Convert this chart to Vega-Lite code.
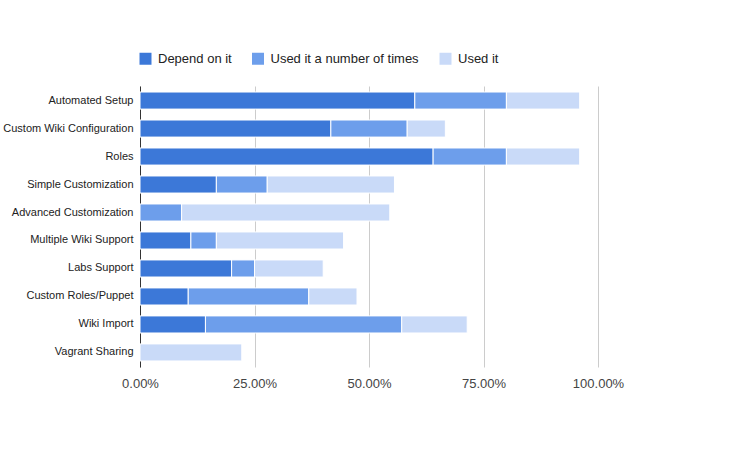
{
  "$schema": "https://vega.github.io/schema/vega-lite/v6.json",
  "width": 458,
  "height": 281,
  "autosize": {"type": "none"},
  "padding": {"left": 140, "top": 86, "right": 139, "bottom": 87},
  "background": "white",
  "config": {"font": "Liberation Sans", "view": {"stroke": null}},
  "data": {"values": [
    {"feature": "Automated Setup", "series": "Depend on it", "share": 0.60},
    {"feature": "Automated Setup", "series": "Used it a number of times", "share": 0.20},
    {"feature": "Automated Setup", "series": "Used it", "share": 0.16},
    {"feature": "Custom Wiki Configuration", "series": "Depend on it", "share": 0.4167},
    {"feature": "Custom Wiki Configuration", "series": "Used it a number of times", "share": 0.1667},
    {"feature": "Custom Wiki Configuration", "series": "Used it", "share": 0.0833},
    {"feature": "Roles", "series": "Depend on it", "share": 0.64},
    {"feature": "Roles", "series": "Used it a number of times", "share": 0.16},
    {"feature": "Roles", "series": "Used it", "share": 0.16},
    {"feature": "Simple Customization", "series": "Depend on it", "share": 0.1667},
    {"feature": "Simple Customization", "series": "Used it a number of times", "share": 0.1111},
    {"feature": "Simple Customization", "series": "Used it", "share": 0.2778},
    {"feature": "Advanced Customization", "series": "Used it a number of times", "share": 0.0909},
    {"feature": "Advanced Customization", "series": "Used it", "share": 0.4545},
    {"feature": "Multiple Wiki Support", "series": "Depend on it", "share": 0.1111},
    {"feature": "Multiple Wiki Support", "series": "Used it a number of times", "share": 0.0556},
    {"feature": "Multiple Wiki Support", "series": "Used it", "share": 0.2778},
    {"feature": "Labs Support", "series": "Depend on it", "share": 0.20},
    {"feature": "Labs Support", "series": "Used it a number of times", "share": 0.05},
    {"feature": "Labs Support", "series": "Used it", "share": 0.15},
    {"feature": "Custom Roles/Puppet", "series": "Depend on it", "share": 0.1053},
    {"feature": "Custom Roles/Puppet", "series": "Used it a number of times", "share": 0.2632},
    {"feature": "Custom Roles/Puppet", "series": "Used it", "share": 0.1053},
    {"feature": "Wiki Import", "series": "Depend on it", "share": 0.1429},
    {"feature": "Wiki Import", "series": "Used it a number of times", "share": 0.4286},
    {"feature": "Wiki Import", "series": "Used it", "share": 0.1429},
    {"feature": "Vagrant Sharing", "series": "Used it", "share": 0.2222}
  ]},
  "transform": [
    {"calculate": "indexof(['Depend on it','Used it a number of times','Used it'], datum.series)", "as": "stackOrder"}
  ],
  "mark": {"type": "bar", "stroke": "white", "strokeWidth": 1},
  "encoding": {
    "y": {
      "field": "feature", "type": "nominal", "sort": null, "title": null,
      "scale": {"paddingInner": 0.39, "paddingOuter": 0.215},
      "axis": {"ticks": false, "domain": true, "domainColor": "#333333", "domainWidth": 1, "labelFontSize": 11, "labelColor": "#222222", "labelPadding": 7, "grid": false}
    },
    "x": {
      "field": "share", "type": "quantitative", "stack": "zero", "title": null,
      "scale": {"domain": [0, 1], "nice": false},
      "axis": {"format": ".2%", "values": [0, 0.25, 0.5, 0.75, 1], "grid": true, "gridColor": "#cccccc", "domain": false, "ticks": false, "labelFontSize": 13, "labelColor": "#444444", "labelPadding": 10, "labelFlush": false}
    },
    "color": {
      "field": "series", "type": "nominal", "title": null,
      "scale": {"domain": ["Depend on it", "Used it a number of times", "Used it"], "range": ["#3c78d8", "#6d9eeb", "#c9daf8"]},
      "legend": {"orient": "none", "legendX": -1, "legendY": -34, "direction": "horizontal", "symbolType": "square", "symbolSize": 144, "symbolStrokeWidth": 0, "labelFontSize": 13, "labelColor": "#222222", "labelOffset": 6, "columnPadding": 19.5}
    },
    "order": {"field": "stackOrder", "type": "quantitative", "sort": "ascending"}
  }
}
